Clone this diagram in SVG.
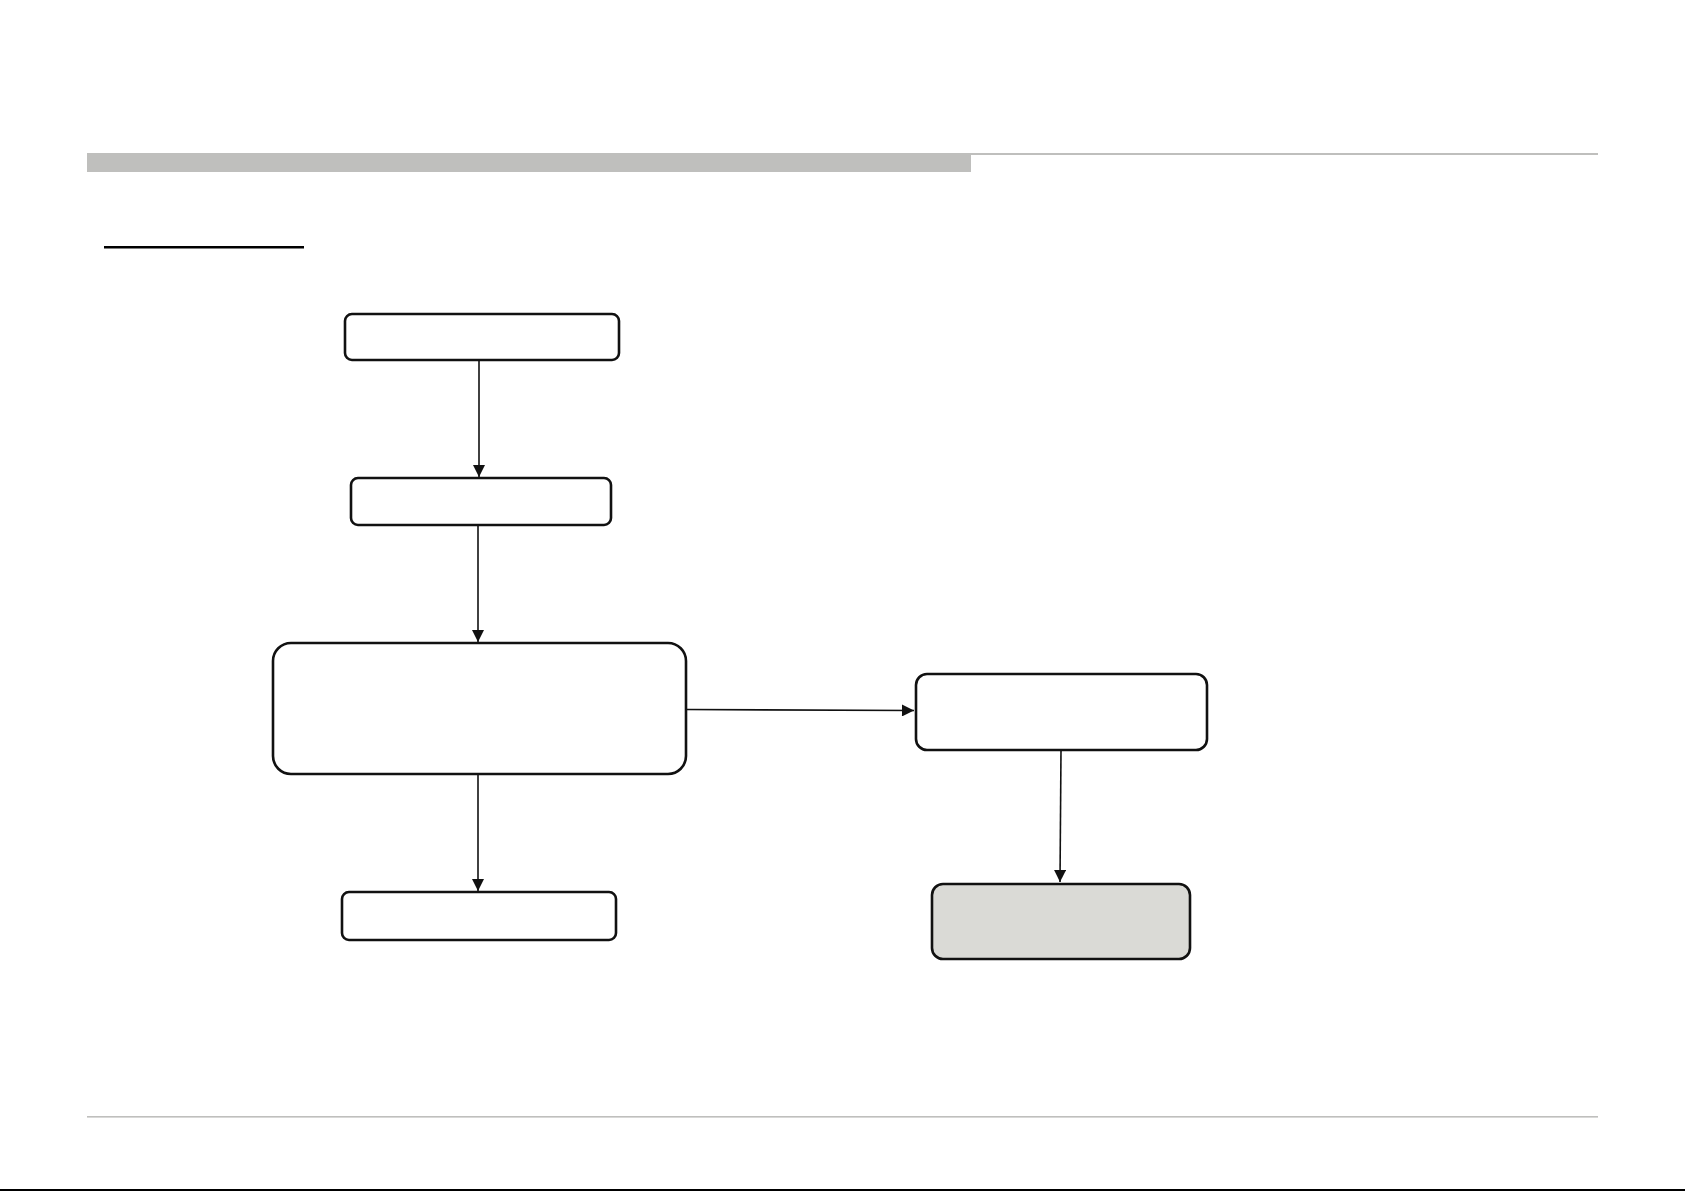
<svg xmlns="http://www.w3.org/2000/svg" width="1685" height="1191" viewBox="0 0 1685 1191">
<defs>
<style>
.node{fill:#fff;stroke:#111;stroke-width:2.6}
.gray{fill:#dadad6}
.conn{stroke:#111;stroke-width:1.6;fill:none}
.rule{fill:#bfbfbd}
</style>
<marker id="ah" viewBox="0 0 10 10" refX="10" refY="5" markerWidth="13" markerHeight="12" markerUnits="userSpaceOnUse" orient="auto">
<path d="M0,0 L10,5 L0,10 z" fill="#111"/>
</marker>
</defs>
<rect width="1685" height="1191" fill="#fff"/>
<rect class="rule" x="87" y="153" width="884" height="19"/>
<rect class="rule" x="971" y="153" width="627" height="2"/>
<rect x="104" y="246" width="200" height="2.5" fill="#000"/>
<rect class="rule" x="87" y="1116" width="1511" height="1.6"/>
<rect x="0" y="1189" width="1685" height="2" fill="#000"/>
<g id="connectors">
<line class="conn" x1="479" y1="360" x2="479" y2="477" marker-end="url(#ah)"/>
<line class="conn" x1="478" y1="525" x2="478" y2="642" marker-end="url(#ah)"/>
<line class="conn" x1="686" y1="709.5" x2="914" y2="710.5" marker-end="url(#ah)"/>
<line class="conn" x1="1061" y1="750" x2="1060" y2="882" marker-end="url(#ah)"/>
<line class="conn" x1="478" y1="774" x2="478" y2="891" marker-end="url(#ah)"/>
</g>
<g id="n1"><rect class="node" x="345" y="314" width="274" height="46" rx="7"/></g>
<g id="n2"><rect class="node" x="351" y="478" width="260" height="47" rx="7"/></g>
<g id="n3"><rect class="node" x="273" y="643" width="413" height="131" rx="18"/></g>
<g id="n4"><rect class="node" x="916" y="674" width="291" height="76" rx="11"/></g>
<g id="n5"><rect class="node gray" x="932" y="884" width="258" height="75" rx="11"/></g>
<g id="n6"><rect class="node" x="342" y="892" width="274" height="48" rx="7"/></g>
</svg>
